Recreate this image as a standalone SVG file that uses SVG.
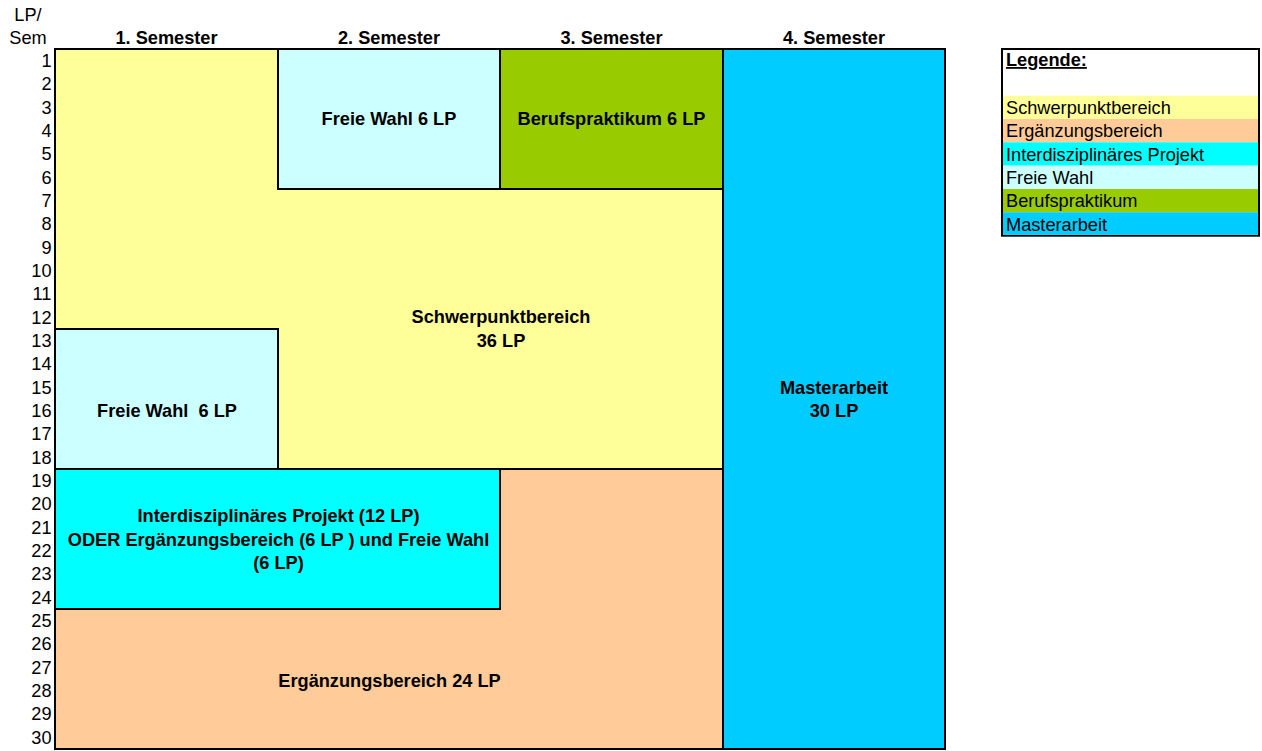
<svg xmlns="http://www.w3.org/2000/svg" width="1262" height="751" viewBox="0 0 1262 751">
<style>
text{font-family:"Liberation Sans",Arial,sans-serif;font-size:18.2px;fill:#000}
.b{font-weight:bold}
.c{text-anchor:middle}
.r{text-anchor:end}
.pre{white-space:pre}
.blk{stroke:#000;stroke-width:2}
.sp{fill:#FFFF99}.eb{fill:#FFCC99}.ip{fill:#00FFFF}.fw{fill:#CCFFFF}.bp{fill:#99CC00}.ma{fill:#00CCFF}
</style>
<rect width="1262" height="751" fill="#fff"/>
<g id="headers">
<text class="c" x="28" y="21">LP/</text>
<text class="c" x="28" y="44">Sem</text>
<text class="b c" x="166.5" y="44">1. Semester</text>
<text class="b c" x="389" y="44">2. Semester</text>
<text class="b c" x="611.5" y="44">3. Semester</text>
<text class="b c" x="834" y="44">4. Semester</text>
</g>
<g id="rows">
<text class="r" x="51.5" y="67">1</text>
<text class="r" x="51.5" y="90.3">2</text>
<text class="r" x="51.5" y="113.7">3</text>
<text class="r" x="51.5" y="137">4</text>
<text class="r" x="51.5" y="160.3">5</text>
<text class="r" x="51.5" y="183.7">6</text>
<text class="r" x="51.5" y="207">7</text>
<text class="r" x="51.5" y="230.3">8</text>
<text class="r" x="51.5" y="253.7">9</text>
<text class="r" x="51.5" y="277">10</text>
<text class="r" x="51.5" y="300.3">11</text>
<text class="r" x="51.5" y="323.7">12</text>
<text class="r" x="51.5" y="347">13</text>
<text class="r" x="51.5" y="370.3">14</text>
<text class="r" x="51.5" y="393.7">15</text>
<text class="r" x="51.5" y="417">16</text>
<text class="r" x="51.5" y="440.3">17</text>
<text class="r" x="51.5" y="463.7">18</text>
<text class="r" x="51.5" y="487">19</text>
<text class="r" x="51.5" y="510.3">20</text>
<text class="r" x="51.5" y="533.7">21</text>
<text class="r" x="51.5" y="557">22</text>
<text class="r" x="51.5" y="580.3">23</text>
<text class="r" x="51.5" y="603.7">24</text>
<text class="r" x="51.5" y="627">25</text>
<text class="r" x="51.5" y="650.3">26</text>
<text class="r" x="51.5" y="673.7">27</text>
<text class="r" x="51.5" y="697">28</text>
<text class="r" x="51.5" y="720.3">29</text>
<text class="r" x="51.5" y="743.7">30</text>
</g>
<g id="schwerpunkt">
<polygon class="sp blk" points="55,49 278,49 278,189 723,189 723,469 278,469 278,329 55,329"/>
<text class="b c" x="501" y="323">Schwerpunktbereich</text>
<text class="b c" x="501" y="346.5">36 LP</text>
</g>
<g id="freiewahl1">
<rect class="fw blk" x="278" y="49" width="222" height="140"/>
<text class="b c" x="389" y="125">Freie Wahl 6 LP</text>
</g>
<g id="berufspraktikum">
<rect class="bp blk" x="500" y="49" width="223" height="140"/>
<text class="b c" x="611.5" y="125">Berufspraktikum 6 LP</text>
</g>
<g id="freiewahl2">
<rect class="fw blk" x="55" y="329" width="223" height="140"/>
<text class="b c pre" x="167" y="417">Freie Wahl  6 LP</text>
</g>
<g id="ergaenzung">
<polygon class="eb blk" points="500,469 723,469 723,749 55,749 55,609 500,609"/>
<text class="b c" x="389.5" y="686.5">Ergänzungsbereich 24 LP</text>
</g>
<g id="projekt">
<rect class="ip blk" x="55" y="469" width="445" height="140"/>
<text class="b c" x="278.5" y="522">Interdisziplinäres Projekt (12 LP)</text>
<text class="b c pre" x="278.5" y="545.5">ODER Ergänzungsbereich (6 LP ) und Freie Wahl</text>
<text class="b c" x="278.5" y="569">(6 LP)</text>
</g>
<g id="masterarbeit">
<rect class="ma blk" x="723" y="49" width="222" height="700"/>
<text class="b c" x="834" y="393.5">Masterarbeit</text>
<text class="b c" x="834" y="417">30 LP</text>
</g>
<g id="legende">
<rect x="1002" y="49" width="257" height="186.7" fill="#fff" class="blk"/>
<rect class="sp" x="1003" y="95.7" width="255" height="23.4"/>
<rect class="eb" x="1003" y="119" width="255" height="23.4"/>
<rect class="ip" x="1003" y="142.3" width="255" height="23.4"/>
<rect class="fw" x="1003" y="165.7" width="255" height="23.4"/>
<rect class="bp" x="1003" y="189" width="255" height="23.4"/>
<rect class="ma" x="1003" y="212.3" width="255" height="22.4"/>
<text class="b" x="1006" y="66" text-decoration="underline">Legende:</text>
<text x="1006" y="114">Schwerpunktbereich</text>
<text x="1006" y="137.3">Ergänzungsbereich</text>
<text x="1006" y="160.7">Interdisziplinäres Projekt</text>
<text x="1006" y="184">Freie Wahl</text>
<text x="1006" y="207.3">Berufspraktikum</text>
<text x="1006" y="230.7">Masterarbeit</text>
</g>
</svg>
